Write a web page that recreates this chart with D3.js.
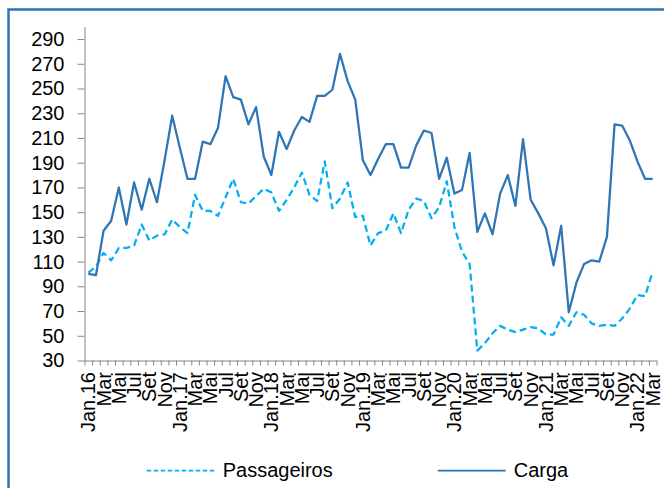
<!DOCTYPE html>
<html>
<head>
<meta charset="utf-8">
<script src="https://cdn.jsdelivr.net/npm/d3@7/dist/d3.min.js"></script>
<style>
  html, body { margin: 0; padding: 0; background: #fff; }
  svg { display: block; }
  text { font-family: "Liberation Sans", Arial, sans-serif; fill: #000; }
</style>
</head>
<body>
<svg id="chart" width="664" height="488"></svg>
<script>
// Monthly index (Jan.16 = 100), Jan.16 .. Mar.22
const carga = [
  100, 99, 135, 143, 170, 140, 174, 152, 177, 158, 192, 228,
  202, 177, 177, 207, 205, 218, 260, 243, 241, 221, 235, 195,
  180, 215, 201, 216, 227, 223, 244, 244, 249, 278, 256, 241,
  192, 180, 193, 205, 205, 186, 186, 204, 216, 214, 177, 194,
  165, 168, 198, 134, 149, 132, 165, 180, 155, 209, 160, 149,
  137, 107, 139, 69, 93, 108, 111, 110, 130, 221, 220, 208,
  191, 177, 177
];
const passageiros = [
  101, 106, 117, 111, 121, 121, 123, 140, 127, 131, 132, 144,
  138, 133, 164, 151, 151, 147, 162, 177, 158, 157, 163, 169,
  166, 151, 160, 170, 182, 164, 159, 191, 153, 161, 174, 146,
  147, 123, 133, 135, 149, 133, 152, 161, 159, 145, 154, 175,
  138, 118, 108, 38, 44, 52, 58, 55, 53, 55, 57, 56,
  51, 51, 65, 58, 69, 67, 60, 58, 59, 58, 64, 72,
  83, 82, 102
];
// One label every second month, starting at Jan.16
const xLabels = [
  "Jan.16", "Mar", "Mai", "Jul", "Set", "Nov",
  "Jan.17", "Mar", "Mai", "Jul", "Set", "Nov",
  "Jan.18", "Mar", "Mai", "Jul", "Set", "Nov",
  "Jan.19", "Mar", "Mai", "Jul", "Set", "Nov",
  "Jan.20", "Mar", "Mai", "Jul", "Set", "Nov",
  "Jan.21", "Mar", "Mai", "Jul", "Set", "Nov",
  "Jan.22", "Mar"
];
const yTicks = [30, 50, 70, 90, 110, 130, 150, 170, 190, 210, 230, 250, 270, 290];
const seriesNames = ["Passageiros", "Carga"];

const blue = "#2E75B6", cyan = "#00B0F0", axisGrey = "#868686";
const svg = d3.select("#chart");

// frame around the figure
svg.append("path")
  .attr("d", "M8.5,488 L8.5,9.5 L664,9.5")
  .attr("fill", "none").attr("stroke", blue).attr("stroke-width", 2.5);

const n = carga.length;
const x = d3.scaleLinear().domain([0, n]).range([84.5, 656.5]);   // category edges
const y = d3.scaleLinear().domain([30, 300]).range([360.5, 26.7]);
const cx = i => x(i + 0.5);

// y axis
const yAxis = svg.append("g").attr("transform", "translate(84.5,0)")
  .call(d3.axisLeft(y).tickValues(yTicks).tickSize(7).tickPadding(13).tickSizeOuter(0));
yAxis.select(".domain").attr("stroke", axisGrey);
yAxis.selectAll(".tick line").attr("stroke", axisGrey);
yAxis.selectAll(".tick text")
  .style("font-family", '"Liberation Sans", Arial, sans-serif')
  .style("font-size", "20px").attr("fill", "#000");

// x axis: tick marks between months
const xAxis = svg.append("g").attr("transform", "translate(0,360.5)")
  .call(d3.axisBottom(x).tickValues(d3.range(n + 1)).tickFormat("").tickSize(5).tickSizeOuter(0));
xAxis.select(".domain").attr("stroke", axisGrey);
xAxis.selectAll(".tick line").attr("stroke", axisGrey);

svg.append("g").selectAll("text").data(xLabels).join("text")
  .attr("transform", (d, k) => `translate(${cx(k * 2)},372) rotate(-90)`)
  .attr("text-anchor", "end").attr("dy", "0.35em")
  .style("font-size", "20px")
  .text(d => d);

// series lines
const line = d3.line().x((d, i) => cx(i)).y(d => y(d));
svg.append("path").datum(passageiros)
  .attr("d", line).attr("fill", "none")
  .attr("stroke", cyan).attr("stroke-width", 2.25)
  .attr("stroke-dasharray", "7,4").attr("stroke-linejoin", "round");
svg.append("path").datum(carga)
  .attr("d", line).attr("fill", "none")
  .attr("stroke", blue).attr("stroke-width", 2.25).attr("stroke-linejoin", "round");

// legend
const legend = svg.append("g");
const items = [
  { name: seriesNames[0], color: cyan, dash: "4.5,2.5", x0: 146.7 },
  { name: seriesNames[1], color: blue, dash: null, x0: 437.7 }
];
items.forEach(it => {
  legend.append("line")
    .attr("x1", it.x0).attr("x2", it.x0 + 68).attr("y1", 470.5).attr("y2", 470.5)
    .attr("stroke", it.color).attr("stroke-width", 1.75)
    .attr("stroke-dasharray", it.dash);
  legend.append("text")
    .attr("x", it.x0 + 76).attr("y", 477)
    .style("font-size", "20px")
    .text(it.name);
});
</script>
</body>
</html>
